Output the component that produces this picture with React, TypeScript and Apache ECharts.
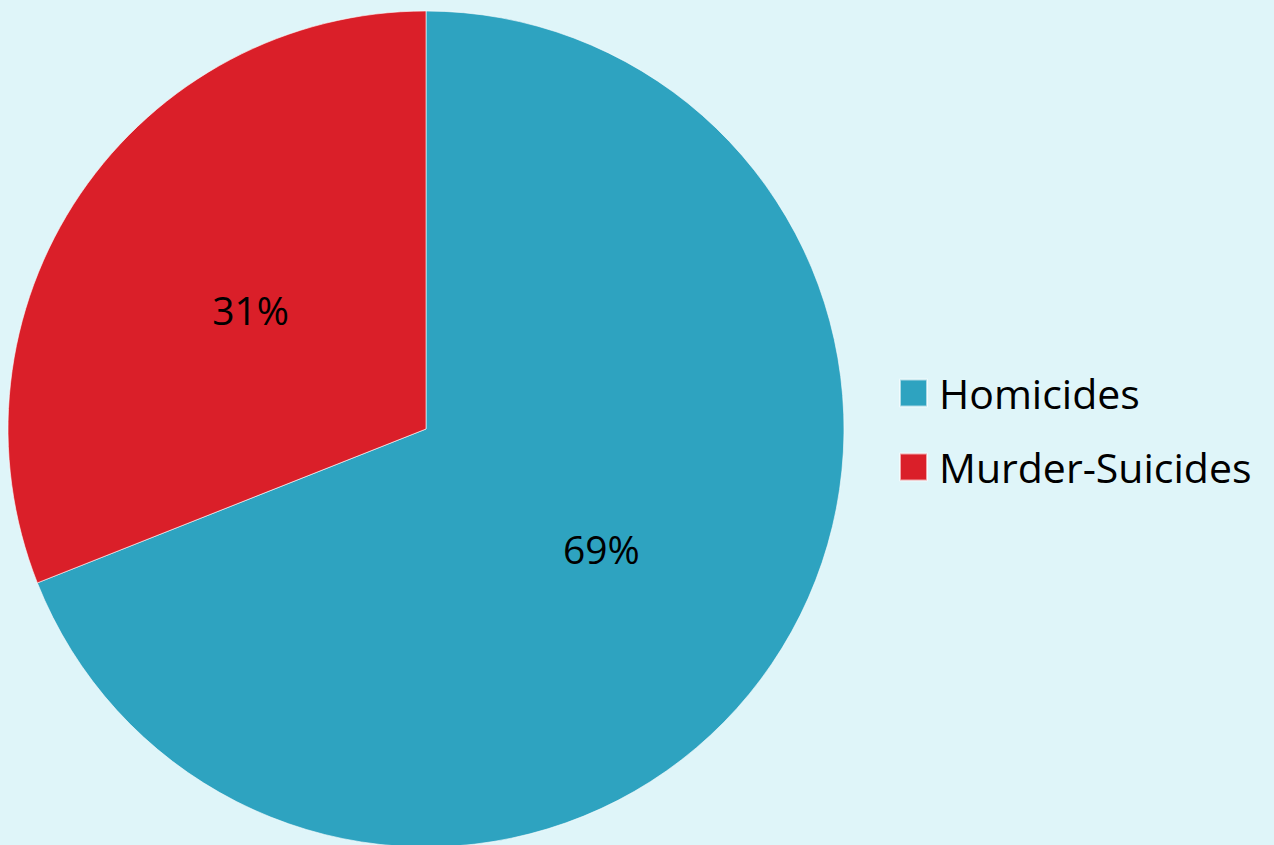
import React, { useEffect, useRef } from "react";
import * as echarts from "echarts";

const categories = ["Homicides", "Murder-Suicides"];
const values = [69, 31];
const colors = ["#2EA3C0", "#DA1F29"];

export default function App() {
  const ref = useRef<HTMLDivElement>(null);
  useEffect(() => {
    document.body.style.margin = "0";
    document.body.style.background = "#DFF5F9";
    const chart = echarts.init(ref.current!, null, { renderer: "svg" });
    chart.setOption({
      animation: false,
      backgroundColor: "#DFF5F9",
      legend: {
        orient: "vertical",
        left: 894,
        top: 367,
        padding: 5,
        icon: "rect",
        itemWidth: 27,
        itemHeight: 27,
        itemGap: 32,
        data: categories,
        textStyle: {
          fontFamily: "Open Sans",
          fontSize: 41,
          lineHeight: 42,
          color: "#000",
          padding: [0, 0, 0, 7],
        },
      },
      series: [
        {
          type: "pie",
          center: [426, 429],
          radius: 418,
          startAngle: 90,
          clockwise: true,
          label: {
            show: true,
            position: "inside",
            formatter: (p: any) => `${p.value}%`,
            fontFamily: "Open Sans",
            fontSize: 39,
            color: "#000",
          },
          labelLine: { show: false },
          itemStyle: { borderColor: "rgba(255,255,255,0.6)", borderWidth: 1 },
          emphasis: { disabled: true },
          data: categories.map((c, i) => ({
            name: c,
            value: values[i],
            itemStyle: { color: colors[i] },
          })),
        },
      ],
    });
    return () => chart.dispose();
  }, []);
  return (
    <div
      ref={ref}
      style={{ position: "fixed", left: 0, top: 0, width: 1274, height: 845 }}
    />
  );
}
